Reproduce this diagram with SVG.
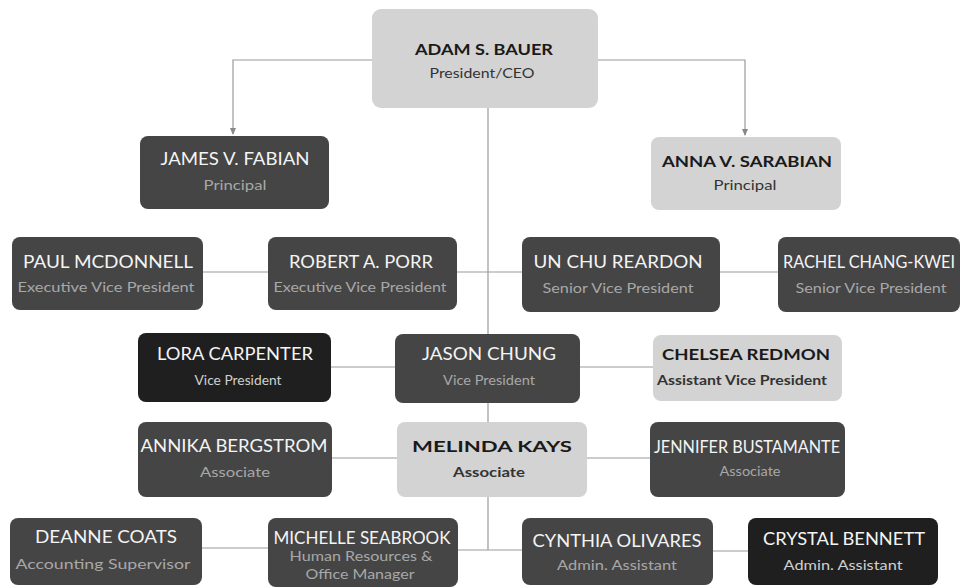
<svg xmlns="http://www.w3.org/2000/svg" width="963" height="587" viewBox="0 0 963 587">
<style>
.d{fill:#454545}
.k{fill:#1f1f1f}
.l{fill:#d3d3d3}
text{font-family:Lato,"Liberation Sans",sans-serif;text-anchor:middle}
.n{font-size:17px;fill:#f4f4f4}
.s{font-size:13px;fill:#a8a8a8}
.sk{fill:#d0d0d0}
.nb{font-size:16px;font-weight:bold;fill:#1a1a1a}
.sb{font-size:13px;fill:#333}
.c{stroke:#9a9a9a;stroke-width:1.2;fill:none}
</style>
<defs>
<marker id="ar" viewBox="0 0 8 8" refX="7" refY="4" markerWidth="6" markerHeight="6" orient="auto"><path d="M0,0.5 L8,4 L0,7.5 z" fill="#888"/></marker>
</defs>
<rect width="963" height="587" fill="#fff"/>
<g id="connectors">
<path class="c" d="M372,60 H233 V134" marker-end="url(#ar)"/>
<path class="c" d="M598,60 H745 V135" marker-end="url(#ar)"/>
<path class="c" d="M488,108 V550"/>
<path class="c" d="M203,272 H268"/>
<path class="c" d="M457,272 H522"/>
<path class="c" d="M720,272 H778"/>
<path class="c" d="M331,367 H395"/>
<path class="c" d="M580,367 H653"/>
<path class="c" d="M332,458 H397"/>
<path class="c" d="M587,458 H650"/>
<path class="c" d="M202,548 H268"/>
<path class="c" d="M458,550 H522"/>
<path class="c" d="M713,551 H748"/>
</g>
<g id="ceo"><rect class="l" x="372" y="9" width="226" height="99" rx="9"/><text class="nb" x="484" y="55" textLength="138" lengthAdjust="spacingAndGlyphs">ADAM S. BAUER</text><text class="sb" x="482" y="78" font-size="14" textLength="105" lengthAdjust="spacingAndGlyphs">President/CEO</text></g>
<g id="fabian"><rect class="d" x="140" y="136" width="189" height="73" rx="8"/><text class="n" x="235" y="165" textLength="149" lengthAdjust="spacingAndGlyphs">JAMES V. FABIAN</text><text class="s" x="235" y="190" textLength="63" lengthAdjust="spacingAndGlyphs">Principal</text></g>
<g id="sarabian"><rect class="l" x="651" y="137" width="190" height="73" rx="8"/><text class="nb" x="747" y="167" textLength="170" lengthAdjust="spacingAndGlyphs">ANNA V. SARABIAN</text><text class="sb" x="745" y="190" textLength="63" lengthAdjust="spacingAndGlyphs">Principal</text></g>
<g id="mcdonnell"><rect class="d" x="12" y="237" width="191" height="73" rx="8"/><text class="n" x="108" y="268" textLength="170" lengthAdjust="spacingAndGlyphs">PAUL MCDONNELL</text><text class="s" x="106" y="292" textLength="177" lengthAdjust="spacingAndGlyphs">Executive Vice President</text></g>
<g id="porr"><rect class="d" x="268" y="237" width="189" height="73" rx="8"/><text class="n" x="361" y="268" textLength="144" lengthAdjust="spacingAndGlyphs">ROBERT A. PORR</text><text class="s" x="360" y="292" textLength="173" lengthAdjust="spacingAndGlyphs">Executive Vice President</text></g>
<g id="reardon"><rect class="d" x="522" y="237" width="198" height="75" rx="8"/><text class="n" x="618" y="268" textLength="169" lengthAdjust="spacingAndGlyphs">UN CHU REARDON</text><text class="s" x="618" y="293" textLength="151" lengthAdjust="spacingAndGlyphs">Senior Vice President</text></g>
<g id="changkwei"><rect class="d" x="778" y="237" width="182" height="75" rx="8"/><text class="n" x="869" y="268" textLength="172" lengthAdjust="spacingAndGlyphs">RACHEL CHANG-KWEI</text><text class="s" x="871" y="293" textLength="151" lengthAdjust="spacingAndGlyphs">Senior Vice President</text></g>
<g id="carpenter"><rect class="k" x="138" y="333" width="193" height="69" rx="8"/><text class="n" x="235" y="360" textLength="156" lengthAdjust="spacingAndGlyphs">LORA CARPENTER</text><text class="s sk" x="238" y="385" textLength="87" lengthAdjust="spacingAndGlyphs">Vice President</text></g>
<g id="chung"><rect class="d" x="395" y="334" width="185" height="69" rx="8"/><text class="n" x="489" y="360" textLength="134" lengthAdjust="spacingAndGlyphs">JASON CHUNG</text><text class="s" x="489" y="385" textLength="92" lengthAdjust="spacingAndGlyphs">Vice President</text></g>
<g id="redmon"><rect class="l" x="653" y="335" width="189" height="66" rx="8"/><text class="nb" x="746" y="360" textLength="168" lengthAdjust="spacingAndGlyphs">CHELSEA REDMON</text><text class="sb" x="742" y="385" font-weight="bold" textLength="170" lengthAdjust="spacingAndGlyphs">Assistant Vice President</text></g>
<g id="bergstrom"><rect class="d" x="138" y="422" width="194" height="75" rx="8"/><text class="n" x="234" y="452" textLength="187" lengthAdjust="spacingAndGlyphs">ANNIKA BERGSTROM</text><text class="s" x="235" y="477" textLength="70" lengthAdjust="spacingAndGlyphs">Associate</text></g>
<g id="kays"><rect class="l" x="397" y="422" width="190" height="75" rx="8"/><text class="nb" x="492" y="452" textLength="160" lengthAdjust="spacingAndGlyphs">MELINDA KAYS</text><text class="sb" x="489" y="477" font-weight="bold" textLength="72" lengthAdjust="spacingAndGlyphs">Associate</text></g>
<g id="bustamante"><rect class="d" x="650" y="422" width="195" height="75" rx="8"/><text class="n" x="747" y="453" textLength="186" lengthAdjust="spacingAndGlyphs">JENNIFER BUSTAMANTE</text><text class="s" x="750" y="476" textLength="61" lengthAdjust="spacingAndGlyphs">Associate</text></g>
<g id="coats"><rect class="d" x="10" y="518" width="192" height="67" rx="8"/><text class="n" x="106" y="543" textLength="142" lengthAdjust="spacingAndGlyphs">DEANNE COATS</text><text class="s" x="103" y="569" textLength="175" lengthAdjust="spacingAndGlyphs">Accounting Supervisor</text></g>
<g id="seabrook"><rect class="d" x="268" y="518" width="190" height="69" rx="8"/><text class="n" x="362" y="544" font-size="15" textLength="177" lengthAdjust="spacingAndGlyphs">MICHELLE SEABROOK</text><text class="s" x="361" y="561" font-size="12" textLength="143" lengthAdjust="spacingAndGlyphs">Human Resources &amp;</text><text class="s" x="360" y="579" font-size="12" textLength="109" lengthAdjust="spacingAndGlyphs">Office Manager</text></g>
<g id="olivares"><rect class="d" x="522" y="518" width="191" height="67" rx="8"/><text class="n" x="617" y="547" textLength="169" lengthAdjust="spacingAndGlyphs">CYNTHIA OLIVARES</text><text class="s" x="617" y="570" textLength="120" lengthAdjust="spacingAndGlyphs">Admin. Assistant</text></g>
<g id="bennett"><rect class="k" x="748" y="518" width="190" height="67" rx="8"/><text class="n" x="844" y="545" textLength="162" lengthAdjust="spacingAndGlyphs">CRYSTAL BENNETT</text><text class="s sk" x="843" y="570" textLength="119" lengthAdjust="spacingAndGlyphs">Admin. Assistant</text></g>
</svg>
